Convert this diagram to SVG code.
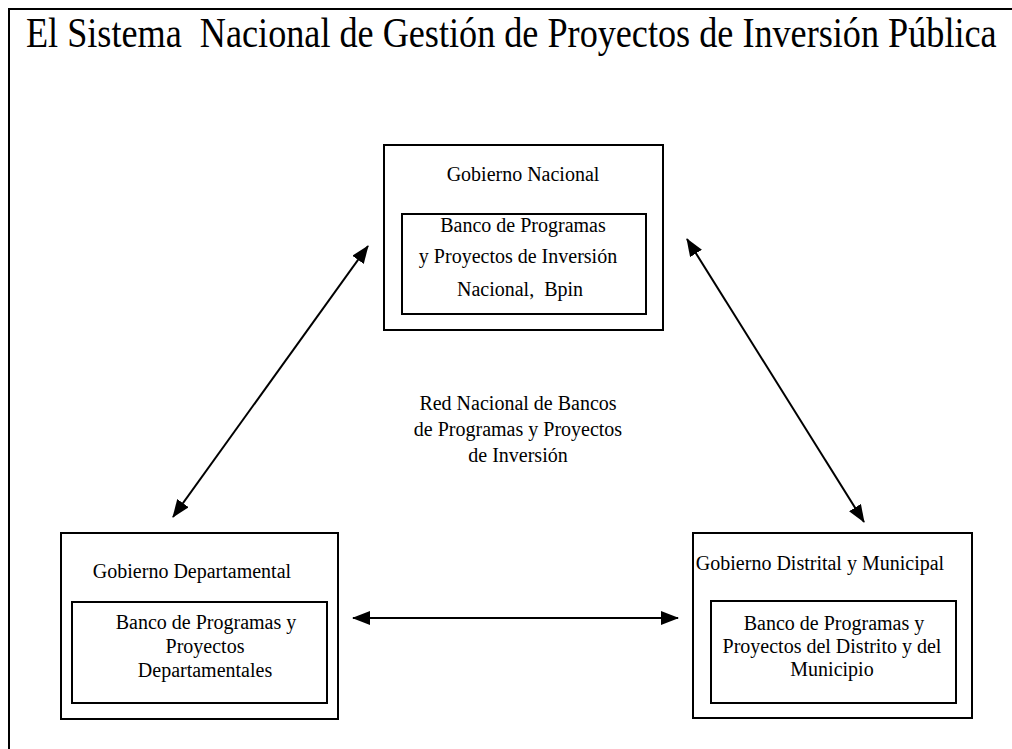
<svg xmlns="http://www.w3.org/2000/svg" width="1012" height="749" viewBox="0 0 1012 749">
<defs>
<style>
.t{font-family:"Liberation Serif","Times New Roman",serif;font-size:20px;fill:#000;text-anchor:middle}
.box{fill:#fff;stroke:#000;stroke-width:2}
.con{stroke:#000;stroke-width:2;fill:none;marker-start:url(#ah);marker-end:url(#ah)}
</style>
<marker id="ah" viewBox="0 0 18 14" refX="17" refY="7" markerWidth="18" markerHeight="14" markerUnits="userSpaceOnUse" orient="auto-start-reverse">
<path d="M0,0 L18,7 L0,14 Z" fill="#000"/>
</marker>
</defs>
<rect width="1012" height="749" fill="#fff"/>
<rect id="frame" x="9" y="9" width="1100" height="1000" fill="none" stroke="#000" stroke-width="2"/>
<text transform="translate(26,47) scale(1,1.19)" x="0" y="0" font-family="Liberation Serif, Times New Roman, serif" font-size="36.2" xml:space="preserve">El Sistema  Nacional de Gestión de Proyectos de Inversión Pública</text>

<g id="connectors">
<line class="con" x1="173" y1="517" x2="368" y2="246"/>
<line class="con" x1="687" y1="239" x2="864" y2="522"/>
<line class="con" x1="353" y1="618" x2="678" y2="618"/>
</g>

<g id="nacional">
<rect class="box" x="384" y="145" width="279" height="185"/>
<text class="t" x="523" y="181">Gobierno Nacional</text>
<rect class="box" x="402" y="214" width="244" height="100"/>
<text class="t" x="523" y="232">Banco de Programas</text>
<text class="t" x="518" y="263">y Proyectos de Inversión</text>
<text class="t" x="520" y="296" xml:space="preserve">Nacional,  Bpin</text>
</g>

<g id="red">
<text class="t" x="518" y="410">Red Nacional de Bancos</text>
<text class="t" x="518" y="436">de Programas y Proyectos</text>
<text class="t" x="518" y="462">de Inversión</text>
</g>

<g id="departamental">
<rect class="box" x="61" y="533" width="277" height="186"/>
<text class="t" x="192" y="578">Gobierno Departamental</text>
<rect class="box" x="72" y="602" width="255" height="101"/>
<text class="t" x="206" y="629">Banco de Programas y</text>
<text class="t" x="205" y="653">Proyectos</text>
<text class="t" x="205" y="677">Departamentales</text>
</g>

<g id="distrital">
<rect class="box" x="693" y="533" width="279" height="185"/>
<text class="t" x="820" y="570">Gobierno Distrital y Municipal</text>
<rect class="box" x="711" y="601" width="245" height="102"/>
<text class="t" x="834" y="630">Banco de Programas y</text>
<text class="t" x="832" y="653">Proyectos del Distrito y del</text>
<text class="t" x="832" y="676">Municipio</text>
</g>
</svg>
